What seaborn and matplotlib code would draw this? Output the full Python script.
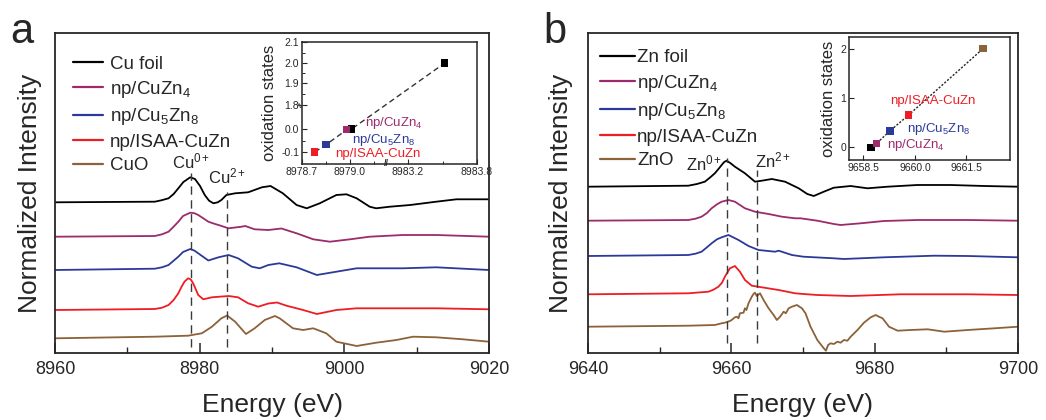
import numpy as np
import pandas as pd
import matplotlib
matplotlib.use("Agg")
import matplotlib.pyplot as plt
import matplotlib.transforms as mtransforms
from matplotlib.ticker import FixedLocator, FixedFormatter
import seaborn as sns

# ---------------- Panel a: Cu K-edge XANES (offset stacked) ----------------
cu_foil_e = [8960, 8973.8, 8974.7, 8975.7, 8976.4, 8977.05, 8977.75, 8978.7, 8979.35, 8980.05, 8980.7, 8981.3,
             8981.9, 8982.5, 8983.0, 8983.7, 8984.9, 8986.7, 8988.6, 8989.8, 8991.5, 8993.4, 8994.8, 8996.6,
             8998.9, 9000.3, 9001.7, 9003.5, 9004.4, 9006.3, 9009.1, 9012.7, 9015.5, 9020]
cu_foil_i = [1.507, 1.513, 1.527, 1.547, 1.59, 1.647, 1.71, 1.757, 1.74, 1.67, 1.58, 1.523,
             1.497, 1.507, 1.53, 1.58, 1.597, 1.607, 1.657, 1.67, 1.597, 1.48, 1.447, 1.497,
             1.58, 1.587, 1.547, 1.463, 1.447, 1.463, 1.48, 1.513, 1.537, 1.537]

np_cuzn4_e = [8960, 8973.8, 8974.8, 8975.7, 8976.4, 8977.05, 8977.7, 8978.7, 8979.3, 8979.8, 8980.5, 8981.2,
              8982.0, 8982.6, 8984.0, 8985.8, 8986.3, 8987.6, 8989.5, 8991.3, 8993.4, 8995.7, 8998.0, 9000.8,
              9003.5, 9008.1, 9012.7, 9020]
np_cuzn4_i = [1.163, 1.17, 1.187, 1.213, 1.263, 1.313, 1.37, 1.403, 1.397, 1.38, 1.347, 1.313,
              1.293, 1.28, 1.247, 1.263, 1.27, 1.237, 1.23, 1.245, 1.197, 1.137, 1.113, 1.137,
              1.163, 1.18, 1.18, 1.163]

np_cu5zn8_e = [8960, 8973.8, 8974.8, 8975.7, 8976.4, 8977.05, 8977.7, 8978.7, 8979.3, 8979.8, 8981.2, 8982.6,
               8984.0, 8985.3, 8987.2, 8988.3, 8989.5, 8991.0, 8993.4, 8996.2, 8998.9, 9001.7, 9008.1, 9012.7,
               9020]
np_cu5zn8_i = [0.83, 0.843, 0.857, 0.88, 0.923, 0.963, 1.01, 1.04, 1.023, 0.997, 0.925, 0.957,
               0.98, 0.947, 0.863, 0.847, 0.88, 0.897, 0.857, 0.78, 0.813, 0.847, 0.847, 0.857,
               0.83]

np_isaa_cu_e = [8960, 8973.8, 8974.8, 8975.7, 8976.4, 8977.05, 8977.5, 8977.9, 8978.4, 8978.75, 8979.1, 8979.4,
                8979.8, 8980.5, 8981.7, 8984.0, 8985.3, 8986.7, 8988.1, 8989.5, 8990.7, 8992.0, 8994.3, 8996.2,
                8998.9, 9001.7, 9008.1, 9012.7, 9020]
np_isaa_cu_i = [0.43, 0.44, 0.453, 0.48, 0.53, 0.597, 0.663, 0.713, 0.747, 0.737, 0.697, 0.647,
                0.58, 0.537, 0.557, 0.57, 0.557, 0.497, 0.463, 0.495, 0.505, 0.473, 0.43, 0.39,
                0.43, 0.447, 0.447, 0.447, 0.437]

cuo_e = [8960, 8973.8, 8978.4, 8980.3, 8981.7, 8983.0, 8983.8, 8984.9, 8986.4, 8987.6, 8989.0, 8990.4, 8991.1,
         8992.9, 8994.3, 8995.7, 8997.5, 8998.9, 9001.7, 9004.4, 9007.2, 9009.5, 9012.7, 9016.4, 9020]
cuo_i = [0.147, 0.163, 0.173, 0.197, 0.263, 0.347, 0.375, 0.313, 0.19, 0.247, 0.33, 0.37, 0.345,
         0.247, 0.23, 0.247, 0.197, 0.113, 0.07, 0.103, 0.13, 0.163, 0.157, 0.137, 0.113]

# ---------------- Panel b: Zn K-edge XANES ----------------
zn_foil_e = [9640, 9654.0, 9655.2, 9656.3, 9657.0, 9657.7, 9658.2, 9658.65, 9659.0, 9659.35, 9659.9, 9660.5,
             9661.9, 9663.3, 9664.25, 9665.65, 9667.5, 9669.4, 9670.6, 9671.5, 9672.9, 9674.3, 9676.65, 9679.0,
             9681.8, 9685.95, 9690.6, 9695.3, 9700]
zn_foil_i = [1.663, 1.673, 1.69, 1.713, 1.753, 1.797, 1.84, 1.88, 1.91, 1.923, 1.897, 1.863,
             1.797, 1.713, 1.723, 1.74, 1.713, 1.647, 1.59, 1.57, 1.613, 1.653, 1.67, 1.647,
             1.663, 1.68, 1.68, 1.67, 1.663]

zn_cuzn4_e = [9640, 9654.0, 9655.0, 9655.85, 9656.6, 9657.25, 9658.0, 9658.65, 9659.6, 9660.5, 9661.9, 9663.3,
              9665.2, 9667.05, 9668.9, 9669.65, 9672.0, 9674.3, 9675.25, 9678.05, 9681.3, 9685.95, 9693.0, 9700]
zn_cuzn4_i = [1.323, 1.33, 1.343, 1.363, 1.40, 1.447, 1.487, 1.513, 1.53, 1.513, 1.447, 1.413,
              1.39, 1.363, 1.347, 1.347, 1.323, 1.29, 1.28, 1.297, 1.32, 1.33, 1.33, 1.323]

zn_cu5zn8_e = [9640, 9654.0, 9655.0, 9655.85, 9656.6, 9657.25, 9658.0, 9658.65, 9659.6, 9661.0, 9662.4, 9663.8,
               9666.1, 9666.6, 9668.45, 9670.05, 9674.3, 9675.7, 9681.3, 9688.3, 9693.0, 9700]
zn_cu5zn8_i = [0.97, 0.98, 0.993, 1.013, 1.057, 1.097, 1.137, 1.157, 1.18, 1.13, 1.07, 1.03,
               1.013, 1.023, 0.98, 0.963, 0.947, 0.94, 0.957, 0.973, 0.97, 0.957]

zn_isaa_e = [9640, 9654.0, 9656.8, 9657.5, 9658.2, 9658.7, 9659.1, 9659.8, 9660.5, 9661.2, 9661.9, 9662.85,
             9664.25, 9666.6, 9668.9, 9670.05, 9672.0, 9676.65, 9683.6, 9693.0, 9700]
zn_isaa_i = [0.587, 0.597, 0.613, 0.633, 0.663, 0.703, 0.763, 0.847, 0.87, 0.813, 0.73, 0.673,
             0.657, 0.63, 0.597, 0.59, 0.58, 0.57, 0.587, 0.587, 0.58]

zno_e = [9640, 9654.0, 9657.7, 9658.65, 9659.1, 9659.8, 9660.05, 9660.5, 9660.75, 9661.0, 9661.2, 9661.7,
         9661.9, 9662.1, 9662.4, 9662.85, 9663.1, 9663.3, 9663.55, 9664.0, 9664.5, 9665.2, 9665.9, 9666.35,
         9666.8, 9667.3, 9667.6, 9668.0, 9668.45, 9669.15, 9669.85, 9670.35, 9671.05, 9672.0, 9672.9, 9673.2,
         9673.5, 9673.85, 9674.3, 9674.8, 9675.25, 9675.7, 9676.2, 9676.65, 9677.6, 9678.5, 9679.45, 9680.15,
         9680.6, 9681.1, 9682.0, 9683.2, 9685.0, 9687.4, 9689.7, 9693.0, 9696.7, 9700]
zno_i = [0.263, 0.273, 0.28, 0.297, 0.303, 0.32, 0.33, 0.357, 0.363, 0.347, 0.397, 0.403,
         0.447, 0.43, 0.497, 0.563, 0.59, 0.603, 0.57, 0.597, 0.53, 0.447, 0.38, 0.33,
         0.363, 0.413, 0.397, 0.447, 0.463, 0.48, 0.447, 0.397, 0.263, 0.13, 0.047, 0.023,
         0.08, 0.097, 0.09, 0.113, 0.103, 0.13, 0.123, 0.163, 0.23, 0.303, 0.357, 0.38,
         0.363, 0.347, 0.263, 0.223, 0.23, 0.237, 0.213, 0.23, 0.247, 0.263]

# ---------------- Insets: edge energy vs oxidation state ----------------
cu_inset_names = ["Cu foil", "np/CuZn4", "np/Cu5Zn8", "np/ISAA-CuZn", "CuO"]
cu_inset_e = [8979.01, 8978.98, 8978.85, 8978.78, 8983.52]
cu_inset_ox = [0.0, -0.003, -0.068, -0.1, 2.0]

zn_inset_names = ["Zn foil", "np/CuZn4", "np/Cu5Zn8", "np/ISAA-CuZn", "ZnO"]
zn_inset_e = [9658.72, 9658.89, 9659.27, 9659.82, 9661.98]
zn_inset_ox = [0.0, 0.08, 0.33, 0.656, 2.0]

labels_a = ["Cu foil", "np/CuZn$_4$", "np/Cu$_5$Zn$_8$", "np/ISAA-CuZn", "CuO"]
labels_b = ["Zn foil", "np/CuZn$_4$", "np/Cu$_5$Zn$_8$", "np/ISAA-CuZn", "ZnO"]
colors = ["#000000", "#9c2a6c", "#2b3a98", "#ee1c25", "#8b6239"]
inset_a_colors = ["#000000", "#9c2a6c", "#2b3a98", "#ee1c25", "#000000"]
inset_b_colors = ["#000000", "#9c2a6c", "#2b3a98", "#ee1c25", "#8b6239"]

# ---------------- Style ----------------
sns.set_style("ticks")
plt.rcParams["font.family"] = ["Liberation Sans", "DejaVu Sans"]
plt.rcParams["mathtext.fontset"] = "custom"
plt.rcParams["mathtext.rm"] = "Liberation Sans"
plt.rcParams["mathtext.it"] = "Liberation Sans:italic"
plt.rcParams["mathtext.bf"] = "Liberation Sans:bold"
plt.rcParams["axes.linewidth"] = 1.3

W, H = 1046, 420
fig = plt.figure(figsize=(W / 100, H / 100), dpi=100)


def px_axes(l, t, r, b):
    return fig.add_axes([l / W, 1 - b / H, (r - l) / W, (b - t) / H])


ax_a = px_axes(55, 33, 489, 353)
ax_b = px_axes(588, 33, 1018, 353)


def draw_main(ax, series, labels, xlim, major, minor):
    for (e, i), lab, c in zip(series, labels, colors):
        df = pd.DataFrame({"Energy": e, "Intensity": i})
        sns.lineplot(data=df, x="Energy", y="Intensity", ax=ax, color=c, lw=1.3,
                     label=lab, estimator=None, sort=False)
    for ln in ax.get_lines():
        ln.set_solid_joinstyle("round")
    ax.set_xlim(*xlim)
    ax.set_ylim(0, 3.2)
    ax.set_yticks([])
    ax.xaxis.set_major_locator(FixedLocator(major))
    ax.xaxis.set_minor_locator(FixedLocator(minor))
    ax.tick_params(axis="x", which="major", direction="in", length=7, width=1.1,
                   labelsize=13, pad=6, top=False)
    ax.tick_params(axis="x", which="minor", direction="in", length=4, width=1.0, top=False)
    ax.set_xlabel("Energy (eV)", fontsize=19)
    ax.set_ylabel("Normalized Intensity", fontsize=19)
    ax.xaxis.set_label_coords(0.5, -0.125)
    for s in ax.spines.values():
        s.set_visible(True)
        s.set_linewidth(1.3)


draw_main(ax_a, [(cu_foil_e, cu_foil_i), (np_cuzn4_e, np_cuzn4_i), (np_cu5zn8_e, np_cu5zn8_i),
                 (np_isaa_cu_e, np_isaa_cu_i), (cuo_e, cuo_i)], labels_a,
          (8960, 9020), [8960, 8980, 9000, 9020], [8970, 8990, 9010])
draw_main(ax_b, [(zn_foil_e, zn_foil_i), (zn_cuzn4_e, zn_cuzn4_i), (zn_cu5zn8_e, zn_cu5zn8_i),
                 (zn_isaa_e, zn_isaa_i), (zno_e, zno_i)], labels_b,
          (9640, 9700), [9640, 9660, 9680, 9700], [9650, 9670, 9690])
ax_a.yaxis.set_label_coords(-0.03, 0.5)
ax_b.yaxis.set_label_coords(-0.035, 0.5)

leg_a = ax_a.legend(loc="upper left", bbox_to_anchor=(0.041, 0.93), frameon=False, fontsize=13.5,
                    handlelength=1.6, handletextpad=0.37, labelspacing=0.34, borderpad=0, borderaxespad=0)
leg_b = ax_b.legend(loc="upper left", bbox_to_anchor=(0.028, 0.95), frameon=False, fontsize=13.5,
                    handlelength=1.87, handletextpad=0.1, labelspacing=0.36, borderpad=0, borderaxespad=0)
for lg in (leg_a, leg_b):
    for ln in lg.get_lines():
        ln.set_linewidth(1.6)

# reference dashed lines
dash = dict(color="#3a3a3a", lw=1.0, ls=(0, (6, 4)))
ax_a.axvline(8978.8, ymin=0.019, ymax=0.5625, **dash)
ax_a.axvline(8983.75, ymin=0.019, ymax=0.503, **dash)
ax_b.axvline(9659.35, ymin=0.031, ymax=0.609, **dash)
ax_b.axvline(9663.55, ymin=0.031, ymax=0.572, **dash)
ax_a.text(8978.8, 1.85, "Cu$^{0+}$", ha="center", va="baseline", fontsize=12)
ax_a.text(8983.75, 1.70, "Cu$^{2+}$", ha="center", va="baseline", fontsize=12)
ax_b.text(9658.7, 1.83, "Zn$^{0+}$", ha="right", va="baseline", fontsize=12)
ax_b.text(9663.3, 1.86, "Zn$^{2+}$", ha="left", va="baseline", fontsize=12)

fig.text(10 / W, 1 - 43 / H, "a", fontsize=30, va="baseline", ha="left")
fig.text(543 / W, 1 - 43 / H, "b", fontsize=30, va="baseline", ha="left")

# ---------------- Inset a (broken axes via piecewise scale) ----------------
ins_a = px_axes(302, 42, 477, 164)
xa_anchor = [8970.0, 8978.7, 8979.0, 8979.23, 8983.02, 8983.2, 8983.8, 8995.0]
xa_pos = [-1392.0, 0.0, 48.0, 85.0, 85.001, 106.0, 175.0, 1463.0]
ya_anchor = [-3.0, -0.1, 0.0, 1.8, 1.9, 2.0, 2.1, 5.0]
ya_pos = [-667.0, 0.0, 23.0, 46.6, 69.0, 89.0, 110.0, 719.0]
ins_a.set_xscale("function", functions=(lambda v: np.interp(v, xa_anchor, xa_pos),
                                         lambda u: np.interp(u, xa_pos, xa_anchor)))
ins_a.set_yscale("function", functions=(lambda v: np.interp(v, ya_anchor, ya_pos),
                                         lambda u: np.interp(u, ya_pos, ya_anchor)))
order_a = [3, 2, 1, 0, 4]
ins_a.plot([cu_inset_e[k] for k in order_a], [cu_inset_ox[k] for k in order_a],
           color="#333333", lw=1.0, ls=(0, (4, 2.5)), zorder=1)
df_a = pd.DataFrame({"E": cu_inset_e, "ox": cu_inset_ox, "name": cu_inset_names})
sns.scatterplot(data=df_a, x="E", y="ox", hue="name", palette=dict(zip(cu_inset_names, inset_a_colors)),
                marker="s", s=28, edgecolor="none", ax=ins_a, legend=False, zorder=3)
ins_a.set_xlim(8978.7, 8983.8)
ins_a.set_ylim(-0.152, 2.1)
ins_a.xaxis.set_major_locator(FixedLocator([8978.7, 8979.0, 8983.2, 8983.8]))
ins_a.xaxis.set_major_formatter(FixedFormatter(["8978.7", "8979.0", "8983.2", "8983.8"]))
ins_a.xaxis.set_minor_locator(FixedLocator([8978.85, 8979.15, 8983.5]))
ins_a.yaxis.set_major_locator(FixedLocator([-0.1, 0.0, 1.8, 1.9, 2.0, 2.1]))
ins_a.yaxis.set_major_formatter(FixedFormatter(["-0.1", "0.0", "1.8", "1.9", "2.0", "2.1"]))
ins_a.yaxis.set_minor_locator(FixedLocator([-0.05, 1.85, 1.95, 2.05]))
ins_a.tick_params(which="major", direction="in", length=3.5, width=0.8, labelsize=7.5, pad=2)
ins_a.tick_params(which="minor", direction="in", length=2, width=0.7)
ins_a.set_xlabel("")
ins_a.set_ylabel("oxidation states", fontsize=12, labelpad=3)
for s in ins_a.spines.values():
    s.set_linewidth(1.1)
bx = mtransforms.blended_transform_factory(ins_a.transAxes, ins_a.transAxes)
ins_a.text(0.484, 0.0, "//", transform=bx, ha="center", va="center", fontsize=6.5, fontweight="bold",
           clip_on=False)
by = mtransforms.blended_transform_factory(ins_a.transAxes, ins_a.transData)
ins_a.text(0.0, 1.8, "//", transform=by, ha="center", va="center", fontsize=6, fontweight="bold",
           rotation=60, clip_on=False)
ins_a.text(0.36, 0.335, "np/CuZn$_4$", transform=ins_a.transAxes, color=colors[1], fontsize=9.5,
           va="center", ha="left")
ins_a.text(0.286, 0.2, "np/Cu$_5$Zn$_8$", transform=ins_a.transAxes, color=colors[2], fontsize=9.5,
           va="center", ha="left")
ins_a.text(0.19, 0.085, "np/ISAA-CuZn", transform=ins_a.transAxes, color=colors[3], fontsize=9.5,
           va="center", ha="left")

# ---------------- Inset b ----------------
ins_b = px_axes(849, 37, 1010, 160)
ins_b.plot(zn_inset_e, zn_inset_ox, color="#222222", lw=1.0, ls=(0, (1.5, 1.2)), zorder=1)
df_b = pd.DataFrame({"E": zn_inset_e, "ox": zn_inset_ox, "name": zn_inset_names})
sns.scatterplot(data=df_b, x="E", y="ox", hue="name", palette=dict(zip(zn_inset_names, inset_b_colors)),
                marker="s", s=28, edgecolor="none", ax=ins_b, legend=False, zorder=3)
ins_b.set_xlim(9658.08, 9662.77)
ins_b.set_ylim(-0.26, 2.24)
ins_b.xaxis.set_major_locator(FixedLocator([9658.5, 9660.0, 9661.5]))
ins_b.xaxis.set_major_formatter(FixedFormatter(["9658.5", "9660.0", "9661.5"]))
ins_b.yaxis.set_major_locator(FixedLocator([0, 1, 2]))
ins_b.yaxis.set_major_formatter(FixedFormatter(["0", "1", "2"]))
ins_b.tick_params(which="major", direction="in", length=3.5, width=0.8, labelsize=7.5, pad=2)
ins_b.set_xlabel("")
ins_b.set_ylabel("oxidation states", fontsize=12, labelpad=3)
for s in ins_b.spines.values():
    s.set_linewidth(1.1)
ins_b.text(0.255, 0.48, "np/ISAA-CuZn", transform=ins_b.transAxes, color=colors[3], fontsize=9.5,
           va="center", ha="left")
ins_b.text(0.36, 0.25, "np/Cu$_5$Zn$_8$", transform=ins_b.transAxes, color=colors[2], fontsize=9.5,
           va="center", ha="left")
ins_b.text(0.236, 0.12, "np/CuZn$_4$", transform=ins_b.transAxes, color=colors[1], fontsize=9.5,
           va="center", ha="left")

fig.savefig("out.png", dpi=100)
